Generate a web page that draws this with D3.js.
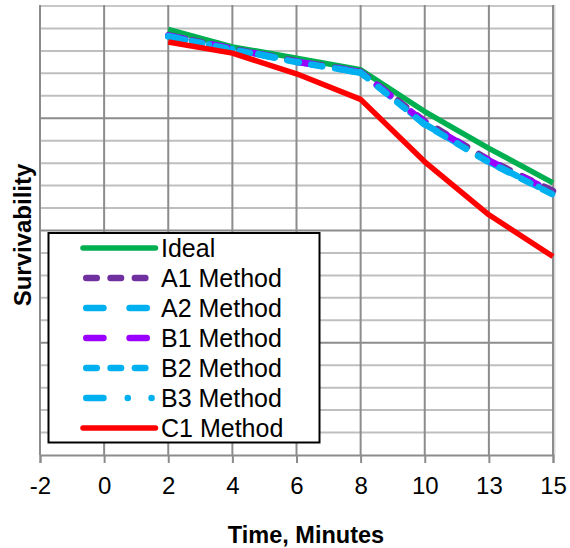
<!DOCTYPE html>
<html>
<head>
<meta charset="utf-8">
<script src="https://cdn.jsdelivr.net/npm/d3@7"></script>
<style>
  html, body { margin: 0; padding: 0; background: #fff; }
  svg { display: block; }
  text { font-family: "Liberation Sans", Arial, sans-serif; fill: #000; }
</style>
</head>
<body>
<svg id="chart" width="570" height="548"></svg>
<script>
// ---- Data ----
const categories = ["-2", "0", "2", "4", "6", "8", "10", "13", "15"];
const seriesTimes = ["2", "4", "6", "8", "10", "13", "15"];
const seriesNames = ["Ideal", "A1 Method", "A2 Method", "B1 Method", "B2 Method", "B3 Method", "C1 Method"];
const ideal = [0.948, 0.909, 0.884, 0.858, 0.765, 0.683, 0.606];
const a1    = [0.935, 0.905, 0.877, 0.854, 0.743, 0.657, 0.588];
const a2    = [0.933, 0.904, 0.876, 0.852, 0.737, 0.653, 0.581];
const b1    = [0.934, 0.905, 0.876, 0.853, 0.741, 0.656, 0.586];
const b2    = [0.933, 0.903, 0.875, 0.852, 0.736, 0.652, 0.580];
const b3    = [0.932, 0.904, 0.876, 0.851, 0.737, 0.653, 0.581];
const c1    = [0.920, 0.895, 0.849, 0.792, 0.653, 0.535, 0.442];
const seriesValues = [ideal, a1, a2, b1, b2, b3, c1];
const yMajorTicks = [0, 0.25, 0.5, 0.75, 1];
const yMinorTicks = d3.range(0, 1.0001, 0.05);

// ---- Styles ----
const styles = [
  { color: "#00B050", width: 5.5, dash: null },
  { color: "#7030A0", width: 6.5, dash: "10.5,13.8" },
  { color: "#00B0F0", width: 6.5, dash: "17.2,26.1" },
  { color: "#9A00FF", width: 6.5, dash: "17.2,26.1" },
  { color: "#00B0F0", width: 6.5, dash: "10.5,13.8" },
  { color: "#00B0F0", width: 6.5, dash: "17.2,24.3,0.01,23.8,0.01,26.3" },
  { color: "#FF0000", width: 5.5, dash: null }
];

(function () {
const svg = d3.select("#chart");
const pLeft = 40, pRight = 553, pTop = 6, pBottom = 455;

const x = d3.scalePoint().domain(categories).range([pLeft, pRight]);
const y = d3.scaleLinear().domain([0, 1]).range([pBottom, pTop]);

const g = svg.append("g");

// minor horizontal gridlines
g.selectAll("line.minor").data(yMinorTicks.filter(v => !yMajorTicks.some(m => Math.abs(m - v) < 1e-6)))
  .enter().append("line")
  .attr("x1", pLeft).attr("x2", pRight)
  .attr("y1", d => y(d)).attr("y2", d => y(d))
  .attr("stroke", "#BFBFBF").attr("stroke-width", 2);

// top border (light)
g.append("line").attr("x1", pLeft).attr("x2", pRight + 1)
  .attr("y1", y(1)).attr("y2", y(1))
  .attr("stroke", "#C8C8C8").attr("stroke-width", 2);

// major horizontal gridlines
g.selectAll("line.major").data(yMajorTicks.filter(v => v > 0 && v < 1))
  .enter().append("line")
  .attr("x1", pLeft).attr("x2", pRight)
  .attr("y1", d => y(d)).attr("y2", d => y(d))
  .attr("stroke", "#8C8C8C").attr("stroke-width", 2);

// right light border
g.append("line").attr("x1", pRight + 1.5).attr("x2", pRight + 1.5)
  .attr("y1", pTop - 1).attr("y2", pBottom)
  .attr("stroke", "#D9D9D9").attr("stroke-width", 2);

// vertical gridlines
g.selectAll("line.v").data(categories).enter().append("line")
  .attr("x1", d => x(d)).attr("x2", d => x(d))
  .attr("y1", pTop - 1).attr("y2", pBottom)
  .attr("stroke", "#8C8C8C").attr("stroke-width", 2);

// x axis
const xAxis = d3.axisBottom(x).tickSize(8).tickPadding(14);
const ax = svg.append("g").attr("transform", `translate(0,${pBottom})`).call(xAxis);
ax.select(".domain").attr("stroke", "#8C8C8C").attr("stroke-width", 2);
ax.selectAll(".tick line").attr("stroke", "#8C8C8C").attr("stroke-width", 2);
ax.selectAll(".tick text").attr("font-size", 24).attr("fill", "#000")
  .attr("font-family", "'Liberation Sans', Arial, sans-serif");

// lines
const line = d3.line().x((d, i) => x(seriesTimes[i])).y(d => y(d));
seriesValues.forEach((vals, si) => {
  const s = styles[si];
  svg.append("path").datum(vals)
    .attr("d", line)
    .attr("fill", "none")
    .attr("stroke", s.color)
    .attr("stroke-width", s.width)
    .attr("stroke-linejoin", "round")
    .attr("stroke-linecap", s.dash ? "round" : "butt")
    .attr("stroke-dasharray", s.dash);
});

// legend
const lg = svg.append("g");
lg.append("rect").attr("x", 48.5).attr("y", 233).attr("width", 271).attr("height", 209.5)
  .attr("fill", "#fff").attr("stroke", "#000").attr("stroke-width", 2);
seriesNames.forEach((name, i) => {
  const s = styles[i];
  const cy = 248 + i * 30;
  const half = s.dash ? s.width / 2 : 0;
  lg.append("line")
    .attr("x1", 83 + half).attr("x2", 155 - half + 0.5)
    .attr("y1", cy).attr("y2", cy)
    .attr("stroke", s.color).attr("stroke-width", s.width)
    .attr("stroke-linecap", "round")
    .attr("stroke-dasharray", s.dash);
  lg.append("text").attr("x", 161).attr("y", cy + 9)
    .attr("font-size", 25).text(name);
});

// axis titles
svg.append("text").attr("x", 306).attr("y", 543)
  .attr("text-anchor", "middle").attr("font-size", 23.5).attr("font-weight", "bold")
  .text("Time, Minutes");
svg.append("text").attr("transform", "translate(31,235) rotate(-90)")
  .attr("text-anchor", "middle").attr("font-size", 24).attr("font-weight", "bold")
  .text("Survivability");
})();
</script>
</body>
</html>
